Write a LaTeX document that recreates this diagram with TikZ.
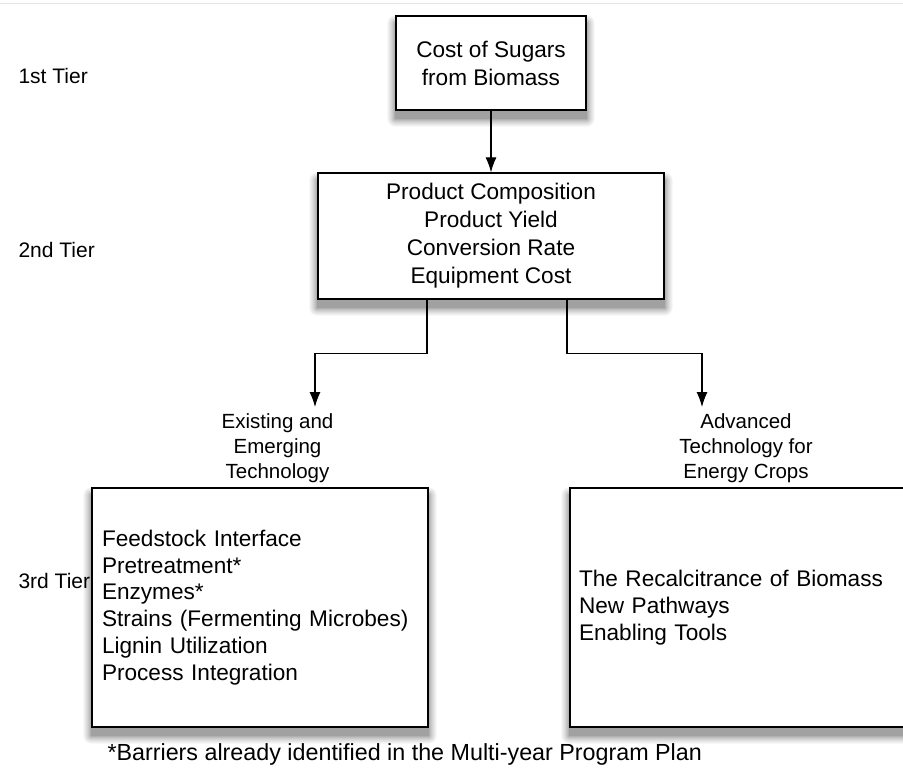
\documentclass[tikz,border=0pt]{standalone}
\usepackage{fontspec}
\setmainfont{Liberation Sans}
\usetikzlibrary{arrows.meta,backgrounds}

% soft drop shadow under a named box, drawn as stacked grey frames
\newcommand{\boxshadow}[1]{%
  \foreach \r/\c in {8/4,7/7,6/10,5/14,4/18,3/22,2/27,1/32,0/37}
    \fill[black!\c, rounded corners=\r pt]
      ([xshift=-\r pt, yshift={\r pt-8pt}]#1.north west)
      rectangle ([xshift=\r pt, yshift={-\r pt-8pt}]#1.south east);}

\begin{document}
\begin{tikzpicture}[x=1pt, y=-1pt, >={Latex[length=15pt,width=11pt]},
  box/.style={draw, line width=1.3pt, fill=white, inner sep=0pt},
  boxtext/.style={font=\fontsize{22.6}{28}\selectfont, align=center},
  listtext/.style={font=\fontsize{22.6}{26.8}\selectfont, align=left,
    text width=316pt, inner xsep=10pt, minimum height=239pt},
  tier/.style={font=\fontsize{21}{25}\selectfont, anchor=base west},
  route/.style={font=\fontsize{20.5}{25}\selectfont, align=center,
    anchor=north, inner sep=0pt},
  link/.style={->, line width=1.1pt}]
  \useasboundingbox (0,0) rectangle (903,768);

  % Faint rule along the top edge
  \draw[gray!20, line width=0.8pt] (0,3) -- (903,3);

  % 1st tier
  \node[box, boxtext, minimum width=190pt, minimum height=94pt] (cost) at (491,63)
    {Cost of Sugars\\from Biomass};

  % 2nd tier
  \node[box, boxtext, minimum width=346pt, minimum height=126pt] (props) at (491,236)
    {Product Composition\\Product Yield\\Conversion Rate\\Equipment Cost};

  % 3rd tier
  \node[box, listtext] (exist-box) at (260,607.5)
    {Feedstock Interface\\Pretreatment*\\Enzymes*\\Strains (Fermenting Microbes)\\Lignin Utilization\\Process Integration};
  \node[box, listtext, text width=326pt, inner xsep=9pt] (adv-box) at (742,607.5)
    {The Recalcitrance of Biomass\\New Pathways\\Enabling Tools};

  % Shadows behind the boxes
  \begin{scope}[on background layer]
    \boxshadow{cost}
    \boxshadow{props}
    \boxshadow{exist-box}
    \boxshadow{adv-box}
  \end{scope}

  % Tier labels
  \node[tier] (t1) at (15,84) {1st Tier};
  \node[tier] (t2) at (15,257) {2nd Tier};
  \node[tier] (t3) at (15,588) {3rd Tier};

  % Branch labels
  \node[route] (exist) at (277.5,413) {Existing and\\Emerging\\Technology};
  \node[route] (adv) at (746,413) {Advanced\\Technology for\\Energy Crops};
  \coordinate (exist-in) at (315,407);
  \coordinate (adv-in) at (702,407);

  % Connectors
  \draw[link] (cost) -- (props);
  \draw[link] ([xshift=-64pt]props.south) -- ++(0,54) -| (exist-in);
  \draw[link] ([xshift=76pt]props.south) -- ++(0,54) -| (adv-in);

  % Footnote
  \node[anchor=base west, font=\fontsize{23.3}{28}\selectfont] (note) at (104,760)
    {*Barriers already identified in the Multi-year Program Plan};
\end{tikzpicture}
\end{document}
